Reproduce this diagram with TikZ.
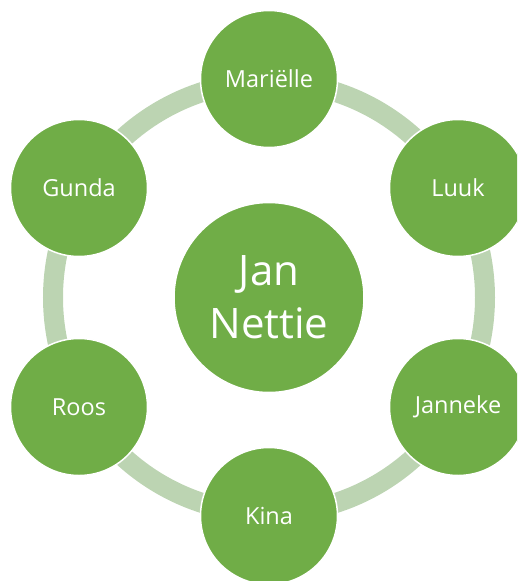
\documentclass[tikz,border=0pt]{standalone}
\usepackage{fontspec}
\setmainfont{Open Sans}
\definecolor{nodegreen}{HTML}{70AD47}
\definecolor{ringgreen}{HTML}{BCD4B2}
\begin{document}
\begin{tikzpicture}[x=1pt,y=-1pt,
  outer/.style={circle,fill=nodegreen,draw=white,line width=1.5pt,minimum size=137pt,inner sep=0pt,text=white,font=\fontsize{23.5}{27}\selectfont},
  hub/.style={circle,fill=nodegreen,draw=white,line width=1.5pt,minimum size=190pt,inner sep=0pt,text=white,align=center,font=\fontsize{42}{53}\selectfont}]
\useasboundingbox (0,0) rectangle (517,581);
\clip (0,0) rectangle (517,581);
\coordinate (c) at (269,297.5);
\draw[ringgreen,line width=20pt] (c) circle[radius=216];
\node[hub] (jan) at (c) {Jan\\Nettie};
\node[outer] (marielle) at (269,79) {Mariëlle};
\node[outer] (luuk) at (458,188) {Luuk};
\node[outer] (janneke) at (458,407) {Janneke};
\node[outer] (kina) at (269,516) {Kina};
\node[outer] (roos) at (79,407) {Roos};
\node[outer] (gunda) at (79,188) {Gunda};
\end{tikzpicture}
\end{document}
